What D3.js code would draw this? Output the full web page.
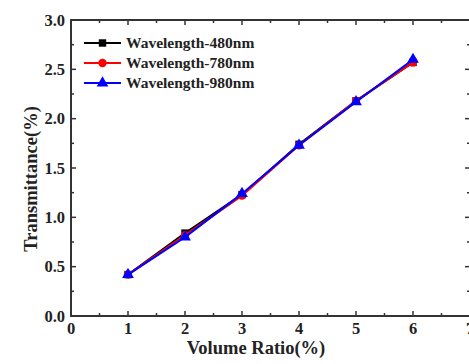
<!DOCTYPE html>
<html>
<head>
<meta charset="utf-8">
<script src="https://cdn.jsdelivr.net/npm/d3@7"></script>
<style>
  body { margin: 0; background: #fff; }
  text { font-family: "Liberation Serif", "Times New Roman", serif; font-weight: bold; fill: #222; }
</style>
</head>
<body>
<div id="chart"></div>
<script>
// Data
const volumeRatio = [1, 2, 3, 4, 5, 6];
const seriesNames = ["Wavelength-480nm", "Wavelength-780nm", "Wavelength-980nm"];
const trans480 = [0.42, 0.84, 1.23, 1.74, 2.18, 2.57];
const trans780 = [0.42, 0.82, 1.22, 1.73, 2.18, 2.57];
const trans980 = [0.42, 0.80, 1.24, 1.73, 2.17, 2.60];
const xTicks = [0, 1, 2, 3, 4, 5, 6, 7];
const yTicks = [0.0, 0.5, 1.0, 1.5, 2.0, 2.5, 3.0];

const width = 469, height = 364;
const margin = { top: 20, right: -1, bottom: 48, left: 71 };

const svg = d3.select("#chart").append("svg")
    .attr("width", width)
    .attr("height", height);

const x = d3.scaleLinear().domain([0, 7]).range([margin.left, width - margin.right]);
const y = d3.scaleLinear().domain([0, 3]).range([height - margin.bottom, margin.top]);

const series = [
    { name: seriesNames[0], values: trans480, color: "#000000", symbol: d3.symbolSquare },
    { name: seriesNames[1], values: trans780, color: "#ff0000", symbol: d3.symbolCircle },
    { name: seriesNames[2], values: trans980, color: "#0000ff", symbol: d3.symbolTriangle }
];

const axisColor = "#333";

// ticks - major inward, minor inward, mirrored on top/right
const xMinor = d3.range(0.5, 7, 1);
const yMinor = d3.range(0.25, 3, 0.5);

const ticks = svg.append("g").attr("stroke", axisColor).attr("stroke-width", 1.5);
xTicks.forEach(v => {
    ticks.append("line").attr("x1", x(v)).attr("x2", x(v)).attr("y1", y(0)).attr("y2", y(0) - 5);
    ticks.append("line").attr("x1", x(v)).attr("x2", x(v)).attr("y1", y(3)).attr("y2", y(3) + 5);
});
xMinor.forEach(v => {
    ticks.append("line").attr("x1", x(v)).attr("x2", x(v)).attr("y1", y(0)).attr("y2", y(0) - 3);
    ticks.append("line").attr("x1", x(v)).attr("x2", x(v)).attr("y1", y(3)).attr("y2", y(3) + 3);
});
yTicks.forEach(v => {
    ticks.append("line").attr("x1", x(0)).attr("x2", x(0) + 5).attr("y1", y(v)).attr("y2", y(v));
    ticks.append("line").attr("x1", x(7)).attr("x2", x(7) - 5).attr("y1", y(v)).attr("y2", y(v));
});
yMinor.forEach(v => {
    ticks.append("line").attr("x1", x(0)).attr("x2", x(0) + 3).attr("y1", y(v)).attr("y2", y(v));
    ticks.append("line").attr("x1", x(7)).attr("x2", x(7) - 3).attr("y1", y(v)).attr("y2", y(v));
});

// frame
svg.append("rect")
    .attr("x", x(0)).attr("y", y(3))
    .attr("width", x(7) - x(0)).attr("height", y(0) - y(3))
    .attr("fill", "none").attr("stroke", axisColor).attr("stroke-width", 2);

// tick labels
svg.append("g").selectAll("text").data(xTicks).join("text")
    .attr("x", d => x(d)).attr("y", y(0) + 18)
    .attr("text-anchor", "middle")
    .attr("font-size", 16.5)
    .text(d => d);

svg.append("g").selectAll("text").data(yTicks).join("text")
    .attr("x", x(0) - 6).attr("y", d => y(d) + 5.5)
    .attr("text-anchor", "end")
    .attr("font-size", 16.5)
    .text(d => d.toFixed(1));

// axis titles
svg.append("text")
    .attr("x", 256).attr("y", 354)
    .attr("text-anchor", "middle")
    .attr("font-size", 18.5)
    .text("Volume Ratio(%)");

svg.append("text")
    .attr("transform", `translate(37,179) rotate(-90)`)
    .attr("text-anchor", "middle")
    .attr("font-size", 18.5)
    .text("Transmittance(%)");

// lines + markers
const line = d3.line().x((d, i) => x(volumeRatio[i])).y(d => y(d));

series.forEach(s => {
    svg.append("path")
        .datum(s.values)
        .attr("fill", "none")
        .attr("stroke", s.color)
        .attr("stroke-width", 2)
        .attr("d", line);
    svg.append("g").selectAll("path").data(s.values).join("path")
        .attr("transform", (d, i) => `translate(${x(volumeRatio[i])},${y(d)})`)
        .attr("d", d3.symbol().type(s.symbol).size(s.symbol === d3.symbolTriangle ? 60 : 55))
        .attr("fill", s.color);
});

// legend
const legend = svg.append("g");
series.forEach((s, i) => {
    const ly = 43 + i * 20;
    legend.append("line")
        .attr("x1", 84).attr("x2", 121).attr("y1", ly).attr("y2", ly)
        .attr("stroke", s.color).attr("stroke-width", 2);
    legend.append("path")
        .attr("transform", `translate(102.5,${ly})`)
        .attr("d", d3.symbol().type(s.symbol).size(s.symbol === d3.symbolTriangle ? 60 : 55))
        .attr("fill", s.color);
    legend.append("text")
        .attr("x", 126).attr("y", ly + 5)
        .attr("font-size", 15.5)
        .text(s.name);
});
</script>
</body>
</html>
